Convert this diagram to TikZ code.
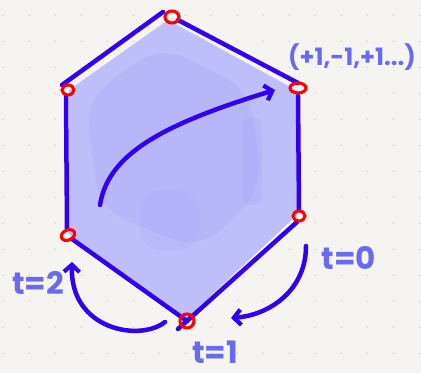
\documentclass[tikz,border=0pt]{standalone}
\usepackage{fontspec}
\setmainfont{Poppins}
\usetikzlibrary{arrows.meta}
\definecolor{paper}{RGB}{245,244,240}
\definecolor{griddot}{RGB}{216,216,214}
\definecolor{penblue}{RGB}{50,0,238}
\definecolor{inkblue}{RGB}{106,106,240}
\definecolor{washblue}{RGB}{190,190,250}
\definecolor{washdark}{RGB}{165,165,248}
\definecolor{marker}{RGB}{255,0,0}
\tikzset{
  edge/.style={line width=3.2pt, draw=penblue, line cap=round},
  vertexmark/.style={draw=marker, line width=2.2pt},
  curlyarrow/.style={line width=3.2pt, draw=penblue, line cap=round,
    -{Straight Barb[length=5pt, width=11pt, line width=3pt]}},
  handlabel/.style={text=inkblue, font=\fontsize{22}{24}\selectfont\bfseries, inner sep=0pt},
}
\begin{document}
\begin{tikzpicture}[x=0.025cm, y=-0.025cm]
\useasboundingbox (0,0) rectangle (421,373);
\fill[paper] (0,0) rectangle (421,373);
\foreach \i in {0,...,16}
  \foreach \j in {0,...,14}
    \fill[griddot] (3.3+26*\i,15.3+26*\j) circle (1);
% corners of the hexagon
\coordinate (top) at (172,17);
\coordinate (ur) at (298,88);
\coordinate (lr) at (299,216);
\coordinate (bot) at (187,321);
\coordinate (ll) at (68,235);
\coordinate (ul) at (68,90);
% watercolour wash
\fill[washblue] (69,90) -- (168,20) -- (296,90) -- (298,214) -- (187,318) -- (69,234) -- cycle;
\fill[washdark, opacity=0.3, rounded corners=20] (85,100) -- (160,45) -- (250,90) -- (262,190) -- (200,250) -- (100,210) -- cycle;
\fill[washdark, opacity=0.3, rounded corners=6] (242,118) rectangle (262,205);
\fill[washdark, opacity=0.2, rounded corners=15] (140,190) rectangle (200,250);
% edges
\draw[edge] (62,85) -- (163,12);
\draw[edge] (top) ++(6,3) -- (298,83);
\draw[edge] (298,96) -- (299,210);
\draw[edge] (297,222) -- (178,329);
\draw[edge] (72,239) -- (bot);
\draw[edge] (66,96) -- (67,229);
% red rings
\draw[vertexmark] (top) ellipse (7 and 6);
\draw[vertexmark] (ur) ellipse (8 and 5);
\draw[vertexmark] (lr) ellipse (6 and 5);
\draw[vertexmark] (bot) circle (7);
\draw[vertexmark, rotate around={25:(ll)}] (ll) ellipse (7 and 5);
\draw[vertexmark] (ul) ellipse (6 and 5);
% arrows
\coordinate (in1) at (100,205);
\coordinate (in2) at (275,90);
\draw[curlyarrow] (in1) .. controls (108,155) and (160,125) .. (in2);
\coordinate (a0s) at (306,246);
\coordinate (a0e) at (231,318);
\draw[curlyarrow] (a0s) .. controls (306,290) and (270,315) .. (a0e);
\coordinate (a2s) at (165,322);
\coordinate (a2e) at (72,262);
\draw[curlyarrow] (a2s) .. controls (140,342) and (70,330) .. (a2e);
% labels
\node[handlabel, font=\fontsize{17}{20}\selectfont\bfseries] (coords) at (352,57) {(+1,-1,+1...)};
\node[handlabel] (tzero) at (349,258) {t=0};
\node[handlabel] (tone) at (215,352) {t=1};
\node[handlabel] (ttwo) at (38,283) {t=2};
\end{tikzpicture}
\end{document}
